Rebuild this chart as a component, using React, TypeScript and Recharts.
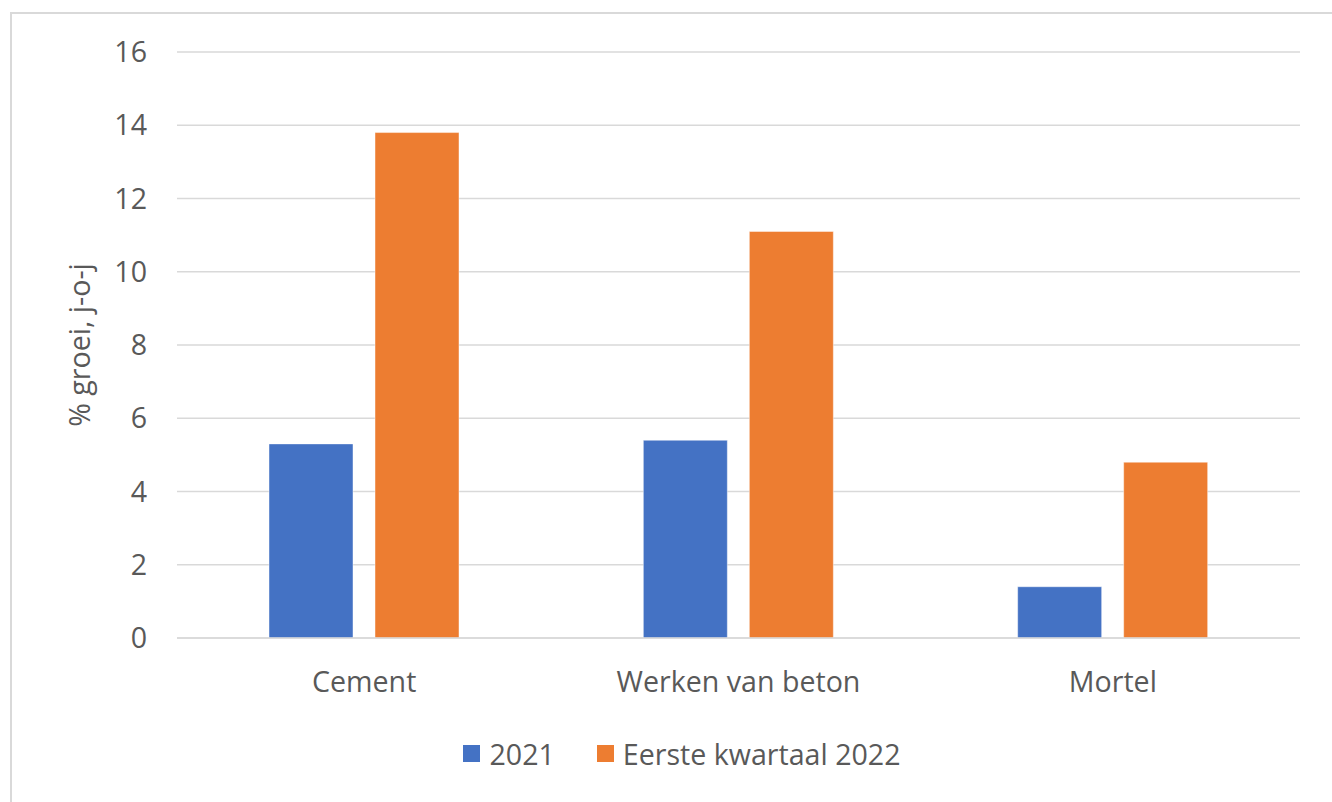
import React from 'react';
import { BarChart, Bar, XAxis, YAxis, CartesianGrid, Legend, Label } from 'recharts';

const categories = ['Cement', 'Werken van beton', 'Mortel'];
const values2021 = [5.3, 5.4, 1.4];
const valuesQ1 = [13.8, 11.1, 4.8];
const yTicks = [0, 2, 4, 6, 8, 10, 12, 14, 16];

const seriesNames = { a: '2021', b: 'Eerste kwartaal 2022' };
const colors = { a: '#4472C4', b: '#ED7D31' };

const data = categories.map((name, i) => ({
  name,
  a: values2021[i],
  b: valuesQ1[i],
}));

const textColor = '#595959';
const gridColor = '#D9D9D9';
const font = '"Open Sans", sans-serif';
const fontSize = 28.6;

const LegendContent = () => (
  <div
    style={{
      display: 'flex',
      justifyContent: 'center',
      alignItems: 'center',
      fontSize,
      color: textColor,
      fontFamily: font,
    }}
  >
    {(['a', 'b'] as const).map((k, i) => (
      <div key={k} style={{ display: 'flex', alignItems: 'center', marginLeft: i ? 42 : 0 }}>
        <span style={{ width: 17, height: 17, background: colors[k], display: 'inline-block', marginRight: 9 }} />
        <span>{seriesNames[k]}</span>
      </div>
    ))}
  </div>
);

export default function App() {
  return (
    <div
      style={{
        position: 'absolute',
        left: 0,
        top: 0,
        width: 1332,
        height: 802,
        overflow: 'hidden',
        background: '#fff',
        fontFamily: font,
      }}
    >
      <div
        style={{
          position: 'absolute',
          left: 10,
          top: 12,
          width: 1340,
          height: 820,
          border: `2px solid ${gridColor}`,
          boxSizing: 'border-box',
        }}
      />
      <div style={{ position: 'absolute', left: 0, top: 0 }}>
        <BarChart
          width={1332}
          height={802}
          data={data}
          margin={{ top: 52, right: 32, bottom: 104, left: 0 }}
          barSize={84}
          barGap={22}
        >
          <CartesianGrid vertical={false} stroke={gridColor} strokeWidth={1.6} />
          <XAxis
            dataKey="name"
            height={60}
            axisLine={{ stroke: gridColor, strokeWidth: 1.6 }}
            tickLine={false}
            tickSize={0}
            tickMargin={34}
            tick={{ fill: textColor, fontSize }}
          />
          <YAxis
            width={177}
            domain={[0, 16]}
            ticks={yTicks}
            axisLine={false}
            tickLine={false}
            tickSize={0}
            tickMargin={30}
            tick={{ fill: textColor, fontSize }}
          >
            <Label
              value="% groei, j-o-j"
              angle={-90}
              position="insideLeft"
              offset={80}
              style={{ textAnchor: 'middle', fill: textColor, fontSize }}
            />
          </YAxis>
          <Legend
            layout="horizontal"
            verticalAlign="middle"
            align="center"
            content={<LegendContent />}
            wrapperStyle={{ left: 0, top: 734, width: 1364 }}
          />
          <Bar dataKey="a" name={seriesNames.a} fill={colors.a} stroke="rgba(255,255,255,0.45)" strokeWidth={1} isAnimationActive={false} />
          <Bar dataKey="b" name={seriesNames.b} fill={colors.b} stroke="rgba(255,255,255,0.45)" strokeWidth={1} isAnimationActive={false} />
        </BarChart>
      </div>
    </div>
  );
}
